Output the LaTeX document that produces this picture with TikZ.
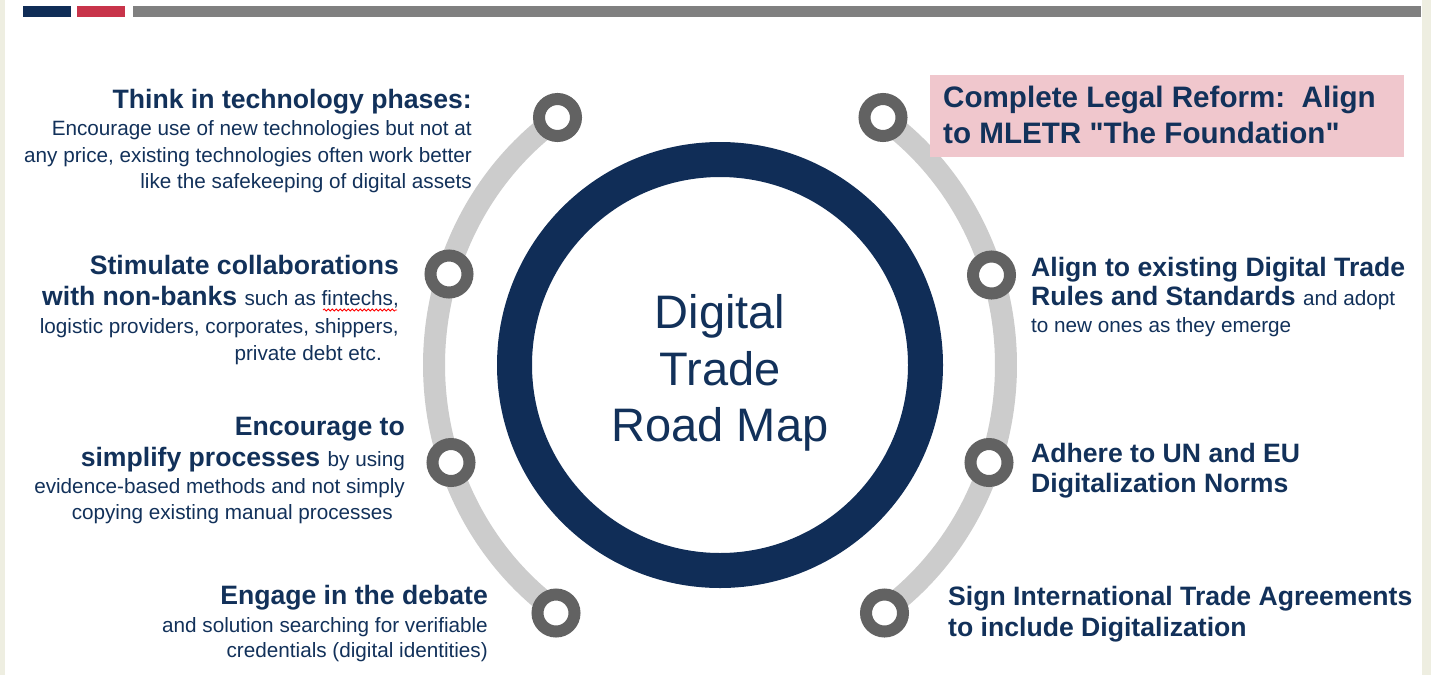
\documentclass[tikz,border=0pt]{standalone}
\usepackage{fontspec}
\setmainfont{Liberation Sans}[Ligatures=TeXOff]
\usetikzlibrary{decorations.pathmorphing}
\definecolor{navy}{HTML}{102D57}
\definecolor{ink}{HTML}{12315A}
\definecolor{barred}{HTML}{C8344A}
\definecolor{bargray}{HTML}{808080}
\definecolor{ringgray}{HTML}{626262}
\definecolor{arcgray}{HTML}{CCCCCC}
\definecolor{legalpink}{HTML}{F0C7CD}
\definecolor{sidebeige}{HTML}{EEEEE1}
\newcommand\bodytxt{\normalfont\fontsize{20.7}{26.5}\selectfont}
\begin{document}
\begin{tikzpicture}[x=1pt,y=-1pt,
  dotring/.style={circle,draw=ringgray,line width=12pt,fill=white,minimum size=37pt,inner sep=0pt},
  lblock/.style={anchor=north east,align=right,inner sep=0pt,text=ink,font=\bfseries\fontsize{26.6}{26.5}\selectfont},
  rblock/.style={anchor=north west,align=left,inner sep=0pt,text=ink,font=\bfseries\fontsize{26.6}{26.5}\selectfont}]
\useasboundingbox (0,0) rectangle (1431,675);
\fill[white] (0,0) rectangle (1431,675);
\fill[sidebeige] (0,0) rectangle (5,675);
\fill[sidebeige] (1422,0) rectangle (1431,675);
\fill[navy] (23,6) rectangle (71,16.5);
\fill[barred] (77,6) rectangle (125,16.5);
\fill[bargray] (133,6) rectangle (1421,16.5);

% track of the road map
\draw[arcgray,line width=22pt] (720,365) ++(124.4:286pt and 300pt) arc[start angle=124.4,end angle=235.6,x radius=286pt,y radius=300pt];
\draw[arcgray,line width=22pt] (720,365) ++(-55.6:286pt and 300pt) arc[start angle=-55.6,end angle=55.6,x radius=286pt,y radius=300pt];

\node[dotring] (l1) at (557.5,117.5) {};
\node[dotring] (l2) at (449,274) {};
\node[dotring] (l3) at (451,462.5) {};
\node[dotring] (l4) at (556,613) {};
\node[dotring] (r1) at (883,117.5) {};
\node[dotring] (r2) at (991.5,275) {};
\node[dotring] (r3) at (989,462.5) {};
\node[dotring] (r4) at (884.5,613) {};

\node[circle,draw=navy,line width=35pt,minimum size=411pt,inner sep=0pt] (hub) at (720,365) {};
\node[anchor=north,align=center,inner sep=0pt,text=ink,font=\fontsize{47}{56.5}\selectfont] (title) at (720,294.3) {Digital\\Trade\\Road Map};

% left side
\node[lblock] (phases) at (472,89) {Think in technology phases:\\[1pt]
  \bodytxt Encourage use of new technologies but not at\\
  \bodytxt any price, existing technologies often work better\\
  \bodytxt like the safekeeping of digital assets};
\node[lblock] (collab) at (399,255) {Stimulate collaborations\\[5pt]
  with non-banks {\bodytxt such as fintechs,}\\[1.5pt]
  \bodytxt logistic providers, corporates, shippers,\\[0.5pt]
  \bodytxt private debt etc.\hspace*{17pt}};
\draw[red,line width=0.8pt,decorate,decoration={snake,amplitude=1pt,segment length=4pt}] (323,310) -- (397,310);
\node[lblock] (simplify) at (405,417) {Encourage to\\[4.5pt]
  simplify processes {\bodytxt by using}\\[0pt]
  \bodytxt evidence-based methods and not simply\\[0pt]
  \bodytxt copying existing manual processes\hspace*{12pt}};
\node[lblock] (debate) at (488,585) {Engage in the debate\\[1.5pt]
  \bodytxt and solution searching for verifiable\\[-1.5pt]
  \bodytxt credentials (digital identities)};

% right side
\fill[legalpink] (930,75) rectangle (1404,157);
\node[rblock,font=\bfseries\fontsize{29.6}{35.5}\selectfont] (legal) at (943,86) {Complete Legal Reform:\ \ Align\\
  to MLETR "The Foundation"};
\node[rblock] (rules) at (1031,256.7) {Align to existing Digital Trade\\[2.8pt]
  Rules and Standards {\bodytxt and adopt}\\[0.2pt]
  \bodytxt to new ones as they emerge};
\node[rblock] (norms) at (1031,442.7) {Adhere to UN and EU\\[3.5pt]
  Digitalization Norms};
\node[rblock] (treaty) at (948,586) {Sign International Trade Agreements\\[4.5pt]
  to include Digitalization};
\end{tikzpicture}
\end{document}
